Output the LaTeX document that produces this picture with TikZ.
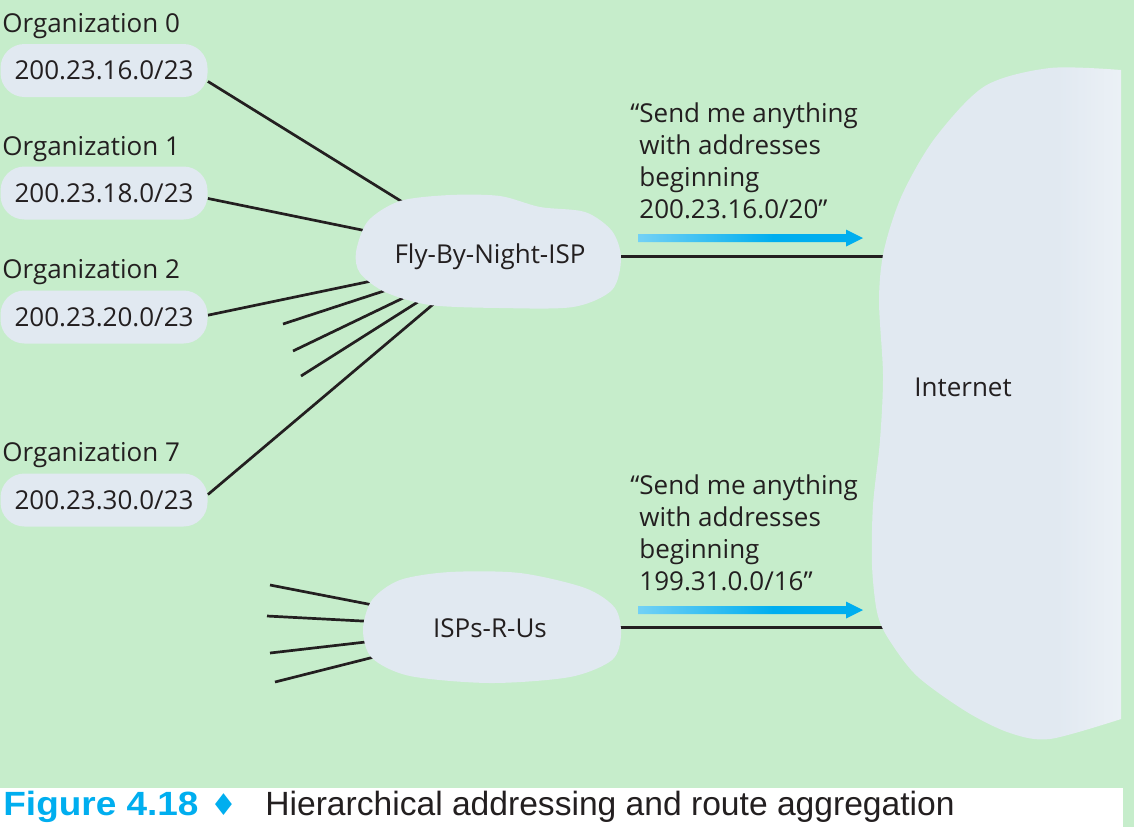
\documentclass[tikz,border=0pt]{standalone}
\usepackage{fontspec}
\setmainfont{Open Sans}
\newfontfamily\capfont{Liberation Sans}
\newfontfamily\capwide[FakeStretch=1.1]{Liberation Sans}
\newfontfamily\symfont{DejaVu Sans}

\definecolor{paper}{HTML}{C6EDCB}
\definecolor{cloud}{HTML}{E1E9F1}
\definecolor{ink}{HTML}{231F20}
\definecolor{adcyan}{HTML}{00AEEF}
\definecolor{adlight}{HTML}{D3EEFA}

\pgfdeclarehorizontalshading{arrowfade}{100bp}{color(0bp)=(adlight); color(55bp)=(adcyan); color(100bp)=(adcyan)}
\pgfdeclarehorizontalshading{cloudfade}{100bp}{color(0bp)=(cloud); color(62bp)=(cloud); color(100bp)=(white)}

\pgfdeclarelayer{sheet}
\pgfdeclarelayer{wires}
\pgfsetlayers{sheet,wires,main}

\newcommand{\adarrow}[1]{%
  \shade[shading=arrowfade] (#1) ++(0,-4) -- ++(208,0) -- ++(0,-4.5) -- ++(17,8.5) -- ++(-17,8.5) -- ++(0,-4.5) -- ++(-208,0) -- cycle;}

\begin{document}
\begin{tikzpicture}[x=0.5pt,y=0.5pt,yscale=-1,xscale=1,
    txt/.style={inner sep=0pt,text=ink,font=\fontsize{13}{16}\selectfont},
    orgtext/.style={txt,anchor=base west},
    addrblob/.style={txt,fill=cloud,rounded corners=12pt,minimum width=103.5pt,minimum height=26.5pt},
    msgtext/.style={txt,anchor=base west,align=left},
    wire/.style={draw=ink,line width=1.35pt}]
\useasboundingbox (0,0) rectangle (1134,827);

\begin{pgfonlayer}{sheet}
%Shape: Rectangle [background]
\fill[paper] (0,0) rectangle (1134,827);
\fill[white] (0,788) rectangle (1123,827);
\end{pgfonlayer}

%Shape: Cloud [Fly-By-Night-ISP]
\fill[cloud] plot[smooth cycle] coordinates {(356,252) (368,221) (400,201) (450,195) (500,196) (540,207) (585,212) (612,231) (621,258) (612,290) (573,307) (500,308) (430,305) (385,292) (360,273)};
%Shape: Cloud [ISPs-R-Us]
\fill[cloud] plot[smooth cycle] coordinates {(363,630) (372,600) (400,580) (450,572) (520,573) (585,588) (615,608) (621,635) (612,660) (570,677) (490,683) (410,676) (372,658)};
%Shape: Cloud [Internet]
\shade[shading=cloudfade] plot[smooth] coordinates {(1121,70) (1050,68) (985,86) (935,138) (902,195) (884,250) (879,300) (883,375) (880,440) (873,505) (872,565) (877,612) (888,638) (917,676) (967,712) (1010,733) (1050,739) (1121,719)} -- cycle;

% Text Node
\node (org0) [orgtext] at (2,32) {Organization 0};
\node (addr0) [addrblob] at (104,70.5) {200.23.16.0/23};
% Text Node
\node (org1) [orgtext] at (2,155) {Organization 1};
\node (addr1) [addrblob] at (104,193) {200.23.18.0/23};
% Text Node
\node (org2) [orgtext] at (2,278) {Organization 2};
\node (addr2) [addrblob] at (104,317) {200.23.20.0/23};
% Text Node
\node (org7) [orgtext] at (2,461) {Organization 7};
\node (addr7) [addrblob] at (104,500) {200.23.30.0/23};

% Text Node
\node (fly) [txt,anchor=base] at (490,263) {Fly-By-Night-ISP};
\node (isp) [txt,anchor=base] at (490,637) {ISPs-R-Us};
\node (inet) [txt,anchor=base west] at (914,396) {Internet};

% Text Node (base = last line)
\node (msg0) [msgtext] at (639,218) {\llap{“}Send me anything\\with addresses\\beginning\\200.23.16.0/20”};
\node (msg1) [msgtext] at (639,590) {\llap{“}Send me anything\\with addresses\\beginning\\199.31.0.0/16”};

%Shape: Arrow [advertisements]
\coordinate (ad0) at (638,238);
\coordinate (ad1) at (638,610);
\adarrow{ad0}
\adarrow{ad1}

%Straight Lines
\coordinate (fs0) at (283,324);
\coordinate (fs1) at (293,351);
\coordinate (fs2) at (301,376);
\coordinate (is0) at (270,585);
\coordinate (is1) at (267,616);
\coordinate (is2) at (270,653);
\coordinate (is3) at (275,682);
\begin{pgfonlayer}{wires}
\draw[wire] (addr0.-6) -- (fly.center);
\draw[wire] (addr1.-3) -- (fly.center);
\draw[wire] (addr2.1) -- (fly.center);
\draw[wire] (addr7.3) -- (fly.center);
\foreach \s in {fs0,fs1,fs2}
  \draw[wire] (\s) -- (fly.center);
\foreach \s in {is0,is1,is2,is3}
  \draw[wire] (\s) -- (isp.center);
\draw[wire] (fly.center) -- (fly.center -| inet.center);
\draw[wire] (isp.center) -- (isp.center -| inet.center);
\end{pgfonlayer}

% Text Node [caption]
\node (figno) [inner sep=0pt,anchor=base west,text=adcyan,font=\capwide\fontsize{16.8}{20}\selectfont\bfseries] at (3,815) {Figure 4.18};
\node (figdia) [inner sep=0pt,anchor=base,text=adcyan,font=\symfont\fontsize{15}{18}\selectfont] at (223.5,815) {♦};
\node (figtitle) [inner sep=0pt,anchor=base west,text=ink,font=\capfont\fontsize{16.8}{20}\selectfont] at (265,815) {Hierarchical addressing and route aggregation};
\end{tikzpicture}
\end{document}
